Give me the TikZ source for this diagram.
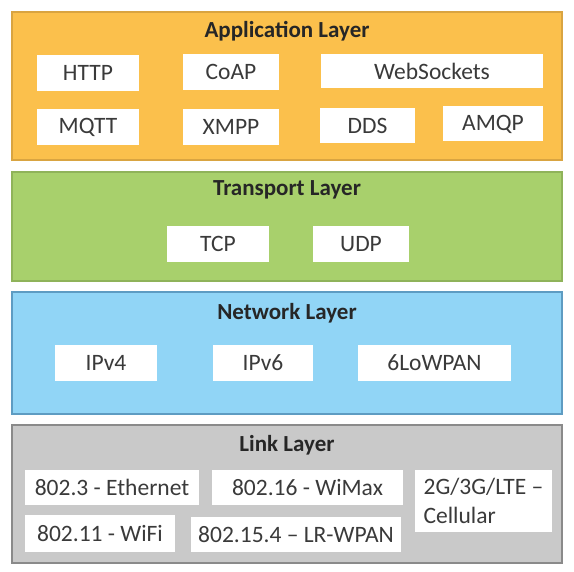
\documentclass[tikz,border=0pt]{standalone}
\usepackage{fontspec}
\setmainfont{Carlito}
\definecolor{appfill}{HTML}{FBC04C}
\definecolor{appdraw}{HTML}{D9A441}
\definecolor{trfill}{HTML}{A8D06C}
\definecolor{trdraw}{HTML}{8FB35A}
\definecolor{netfill}{HTML}{91D5F6}
\definecolor{netdraw}{HTML}{5E9CC2}
\definecolor{linkfill}{HTML}{C9C9C9}
\definecolor{linkdraw}{HTML}{8A8A8A}
\definecolor{prototext}{HTML}{3A3A3A}
\begin{document}
\begin{tikzpicture}
 		[x=1pt,y=-1pt,
 		layer/.style={rectangle,line width=1.2pt,minimum width=550pt,inner sep=0pt},
 		title/.style={font=\fontsize{23}{27}\selectfont\bfseries,text=black!85},
 		proto/.style={rectangle,fill=white,inner sep=0pt,text=prototext,
 			font=\fontsize{23.5}{29}\selectfont}]
 		\useasboundingbox (0,0) rectangle (574,572);
 		% layers
 		\node[layer,fill=appfill,draw=appdraw,minimum height=148pt] (app) at (287,86) {};
 		\node[layer,fill=trfill,draw=trdraw,minimum height=109pt] (transport) at (287,226.5) {};
 		\node[layer,fill=netfill,draw=netdraw,minimum height=122pt] (network) at (287,353) {};
 		\node[layer,fill=linkfill,draw=linkdraw,minimum height=138pt] (link) at (287,494) {};
 		% titles
 		\node[title] (apptitle) at (287,31) {Application Layer};
 		\node[title] (trtitle) at (287,190) {Transport Layer};
 		\node[title] (nettitle) at (287,313) {Network Layer};
 		\node[title] (linktitle) at (287,445) {Link Layer};
 		% application protocols
 		\node[proto,minimum width=102pt,minimum height=36pt] (http) at (88,73) {HTTP};
 		\node[proto,minimum width=96pt,minimum height=36pt] (coap) at (231,72) {CoAP};
 		\node[proto,minimum width=222pt,minimum height=34pt] (websockets) at (432,71) {WebSockets};
 		\node[proto,minimum width=102pt,minimum height=36pt] (mqtt) at (88,127) {MQTT};
 		\node[proto,minimum width=96pt,minimum height=36pt] (xmpp) at (231,127) {XMPP};
 		\node[proto,minimum width=95pt,minimum height=35pt] (dds) at (367.5,125.5) {DDS};
 		\node[proto,minimum width=100pt,minimum height=35pt] (amqp) at (493,124) {AMQP};
 		% transport protocols
 		\node[proto,minimum width=102pt,minimum height=36pt] (tcp) at (218,244) {TCP};
 		\node[proto,minimum width=96pt,minimum height=36pt] (udp) at (361,244) {UDP};
 		% network protocols
 		\node[proto,minimum width=102pt,minimum height=36pt] (ipv4) at (106,363) {IPv4};
 		\node[proto,minimum width=100pt,minimum height=36pt] (ipv6) at (263,363) {IPv6};
 		\node[proto,minimum width=153pt,minimum height=36pt] (lowpan) at (434.5,363) {6LoWPAN};
 		% link protocols
 		\node[proto,minimum width=174pt,minimum height=35pt] (ethernet) at (112,487.5) {802.3 - Ethernet};
 		\node[proto,minimum width=191pt,minimum height=35pt] (wimax) at (307.5,487.5) {802.16 - WiMax};
 		\node[proto,minimum width=137pt,minimum height=62pt,align=left] (cellular) at (483.5,501)
 			{2G/3G/LTE –\\Cellular};
 		\node[proto,minimum width=150pt,minimum height=37pt] (wifi) at (100,533.5) {802.11 - WiFi};
 		\node[proto,minimum width=210pt,minimum height=35pt] (lrwpan) at (296,534.5) {802.15.4 – LR-WPAN};
 	\end{tikzpicture}
\end{document}
